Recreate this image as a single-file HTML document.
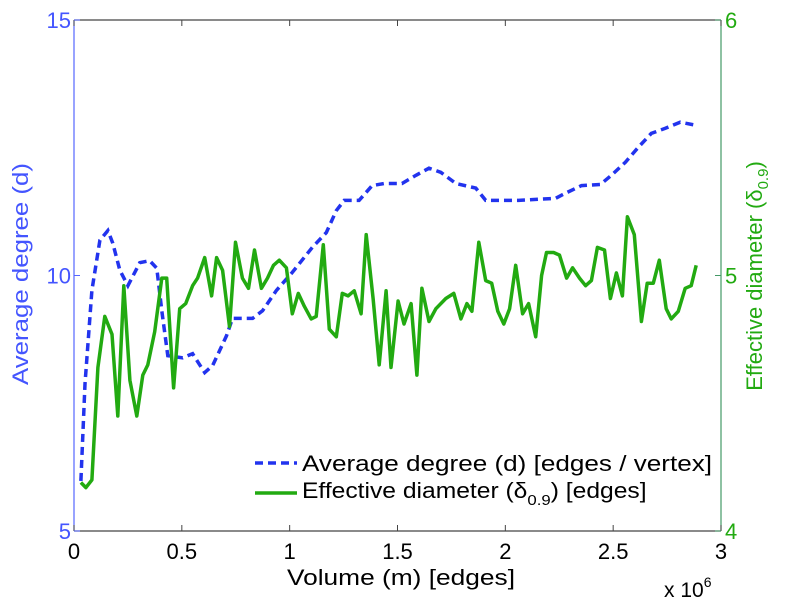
<!DOCTYPE html>
<html><head><meta charset="utf-8"><style>
html,body{margin:0;padding:0;background:#fff;}
svg{display:block;font-family:"Liberation Sans",sans-serif;}
</style></head><body>
<svg id="chart" width="785" height="600" viewBox="0 0 785 600">
<g id="axes"></g>
<g id="series"></g>
<text x="28" y="274" transform="rotate(-90 28 274)" text-anchor="middle" font-size="22" fill="#4455ff" textLength="222" lengthAdjust="spacingAndGlyphs">Average degree (d)</text>
<text x="762" y="276" transform="rotate(-90 762 276)" text-anchor="middle" font-size="22" fill="#22aa11">Effective diameter (δ<tspan font-size="15" dy="6">0.9</tspan><tspan dy="-6">)</tspan></text>
<text x="287" y="585" font-size="22" fill="#000" textLength="228" lengthAdjust="spacingAndGlyphs">Volume (m) [edges]</text>
<text x="664" y="597" font-size="21" fill="#000">x 10<tspan font-size="14" dy="-10">6</tspan></text>
<g>
<line x1="255" y1="463" x2="297" y2="463" stroke="#2233ee" stroke-width="3.5" stroke-dasharray="8,5"/>
<text x="302" y="471" font-size="22" fill="#000" textLength="410" lengthAdjust="spacingAndGlyphs">Average degree (d) [edges / vertex]</text>
<line x1="255" y1="493" x2="297" y2="493" stroke="#22aa11" stroke-width="3.5"/>
<g transform="translate(302 498) scale(1.12 1)"><text x="0" y="0" font-size="22" fill="#000">Effective diameter (δ<tspan font-size="15" dy="7">0.9</tspan><tspan dy="-7">) [edges]</tspan></text></g>
</g>
</svg>
<script>
const xTicks = [0, 0.5, 1, 1.5, 2, 2.5, 3];
const xTickLabels = ["0", "0.5", "1", "1.5", "2", "2.5", "3"];
const leftTicks = [5, 10, 15];
const rightTicks = [4, 5, 6];
const degX = [0.032,0.051,0.083,0.120,0.157,0.180,0.213,0.250,0.305,0.351,0.384,0.407,0.435,0.504,0.550,0.606,0.643,0.707,0.735,0.828,0.874,0.939,1.012,1.105,1.170,1.216,1.253,1.322,1.382,1.438,1.521,1.586,1.646,1.701,1.771,1.863,1.909,2.062,2.233,2.279,2.353,2.441,2.492,2.557,2.617,2.677,2.742,2.811,2.885];
const degY = [5.98,7.88,9.71,10.69,10.88,10.63,10.10,9.80,10.25,10.29,10.14,9.31,8.43,8.39,8.47,8.10,8.24,8.82,9.16,9.16,9.31,9.71,10.06,10.55,10.84,11.27,11.47,11.47,11.76,11.80,11.80,11.96,12.10,12.02,11.80,11.71,11.47,11.47,11.51,11.61,11.76,11.78,11.96,12.22,12.51,12.78,12.88,13.00,12.94];
const diaX = [0.032,0.055,0.083,0.111,0.143,0.176,0.203,0.231,0.259,0.291,0.319,0.342,0.374,0.407,0.430,0.462,0.490,0.518,0.550,0.573,0.606,0.638,0.661,0.689,0.721,0.749,0.781,0.809,0.837,0.869,0.897,0.925,0.952,0.985,1.012,1.040,1.068,1.100,1.123,1.156,1.184,1.216,1.244,1.271,1.299,1.331,1.355,1.387,1.415,1.447,1.470,1.503,1.530,1.563,1.590,1.613,1.646,1.678,1.724,1.761,1.794,1.822,1.845,1.877,1.909,1.937,1.965,1.993,2.020,2.048,2.080,2.108,2.141,2.168,2.191,2.224,2.251,2.284,2.312,2.344,2.372,2.399,2.427,2.460,2.487,2.515,2.543,2.566,2.598,2.631,2.658,2.686,2.714,2.746,2.769,2.802,2.834,2.862,2.885];
const diaY = [4.19,4.17,4.20,4.64,4.84,4.77,4.45,4.96,4.59,4.45,4.61,4.65,4.78,4.99,4.99,4.56,4.87,4.89,4.96,4.99,5.07,4.92,5.07,5.02,4.80,5.13,4.99,4.95,5.10,4.95,4.99,5.04,5.06,5.03,4.85,4.93,4.88,4.83,4.84,5.12,4.79,4.76,4.93,4.92,4.94,4.85,5.16,4.91,4.65,4.94,4.64,4.90,4.81,4.89,4.61,4.95,4.82,4.87,4.91,4.93,4.83,4.89,4.86,5.13,4.98,4.97,4.86,4.81,4.87,5.04,4.85,4.89,4.76,5.00,5.09,5.09,5.08,4.99,5.03,4.99,4.96,4.98,5.11,5.10,4.91,5.01,4.92,5.23,5.16,4.82,4.97,4.97,5.06,4.87,4.83,4.86,4.95,4.96,5.04];

const L=74,R=721,T=20,B=531;
const sx=v=>L+(v-0)/3*(R-L);
const syL=v=>B-(v-5)/10*(B-T);
const syR=v=>B-(v-4)/2*(B-T);
const NS="http://www.w3.org/2000/svg";
function mk(tag,attrs,parent){const e=document.createElementNS(NS,tag);for(const k in attrs)e.setAttribute(k,attrs[k]);parent.appendChild(e);return e;}
const axes=document.getElementById('axes'), series=document.getElementById('series');

let e;
e=mk('line',{x1:L,y1:T,x2:R,y2:T,stroke:'#444','stroke-width':1.2},axes);


e=mk('line',{x1:L,y1:B,x2:R,y2:B,stroke:'#444','stroke-width':1.2},axes);


e=mk('line',{x1:L,y1:T,x2:L,y2:B,stroke:'#5566ff','stroke-width':1.2},axes);


e=mk('line',{x1:R,y1:T,x2:R,y2:B,stroke:'#449966','stroke-width':1.2},axes);



xTicks.forEach((t,i)=>{
  const x=sx(t);
  let a=mk('line',{x1:x,y1:B,x2:x,y2:B-6,stroke:'#444'},axes);
  
  
  a=mk('line',{x1:x,y1:T,x2:x,y2:T+6,stroke:'#444'},axes);
  
  
  a=mk('text',{x:x,y:B+28,'text-anchor':'middle','font-size':22,fill:'#000'},axes);
  a.textContent=xTickLabels[i];
  
  
});
leftTicks.forEach(t=>{
  const y=syL(t);
  let a=mk('line',{x1:L,y1:y,x2:L+6,y2:y,stroke:'#5566ff'},axes);
  
  
  a=mk('text',{x:L-3,y:y+8,'text-anchor':'end','font-size':22,fill:'#4455ff'},axes);
  a.textContent=t;
  
  
});
rightTicks.forEach(t=>{
  const y=syR(t);
  let a=mk('line',{x1:R,y1:y,x2:R-6,y2:y,stroke:'#449966'},axes);
  
  
  a=mk('text',{x:R+4,y:y+8,'text-anchor':'start','font-size':22,fill:'#22aa11'},axes);
  a.textContent=t;
  
  
});

const dPts=degX.map((x,i)=>sx(x).toFixed(1)+','+syL(degY[i]).toFixed(1)).join(' ');
e=mk('polyline',{points:dPts,fill:'none',stroke:'#2233ee','stroke-width':3.5,'stroke-dasharray':'8,5'},series);


const gPts=diaX.map((x,i)=>sx(x).toFixed(1)+','+syR(diaY[i]).toFixed(1)).join(' ');
e=mk('polyline',{points:gPts,fill:'none',stroke:'#22aa11','stroke-width':3.5,'stroke-linejoin':'round'},series);


</script>
</body></html>
